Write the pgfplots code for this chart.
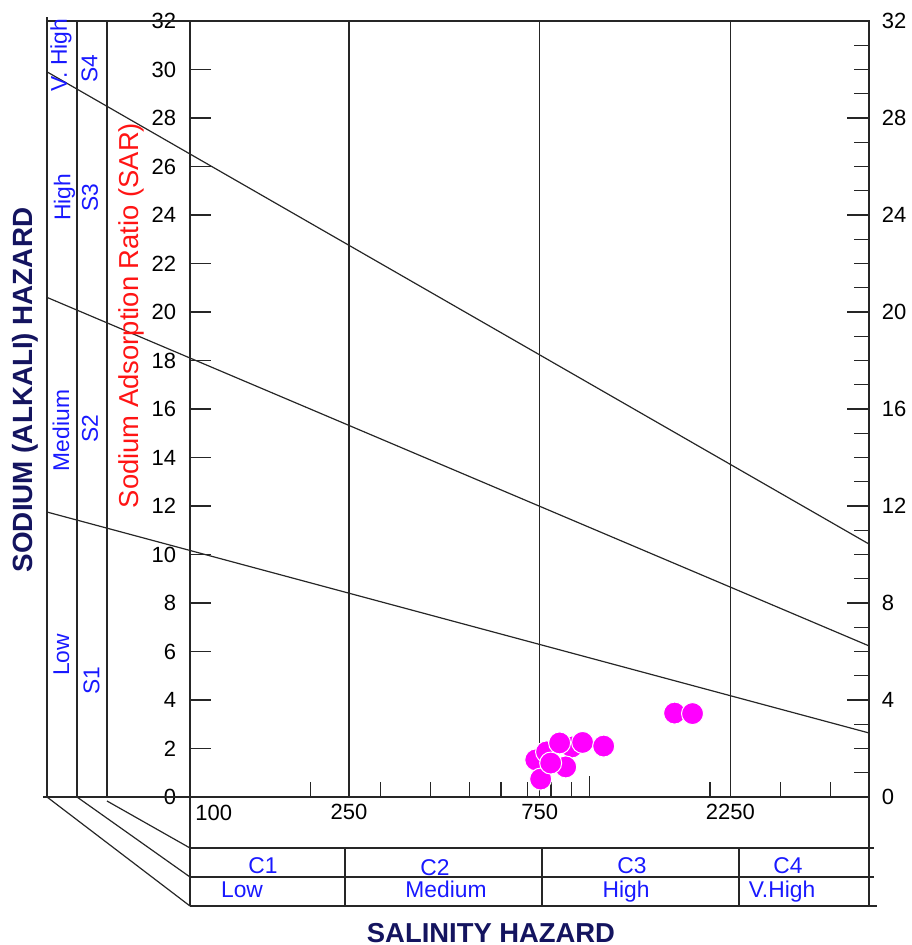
\documentclass[border=0pt]{standalone}
\usepackage{fontspec}
\setmainfont{Liberation Sans}
\usepackage{pgfplots}
\pgfplotsset{compat=1.18}
\definecolor{lab}{RGB}{25,25,255}
\definecolor{navy}{RGB}{20,20,95}
\definecolor{pts}{RGB}{255,0,255}
\definecolor{sar}{RGB}{255,20,20}

\begin{document}
\begin{tikzpicture}
\begin{axis}[
  at={(0pt,0pt)}, anchor=south west,
  width=339.5pt, height=388pt, scale only axis,
  xmode=log, xmin=100, xmax=5000, ymin=0, ymax=32,
  clip=false,
  axis line style={line width=0.7pt, black!85},
  tick align=inside,
  xtick={1000}, xticklabels={},
  minor xtick={200,300,400,500,600,700,800,900,2000,3000,4000},
  xtick pos=left,
  ytick={0,2,...,32}, ytick pos=left,
  major tick length=10.5pt, minor tick length=7.5pt,
  tick style={line width=0.6pt, black!85},
  extra x ticks={250,750,2250},
  extra x tick labels={250,750,2250},
  extra x tick style={major tick length=0pt},
  tick label style={font=\fontsize{11}{13}\selectfont},
  /pgf/number format/assume math mode=true,
  yticklabel style={xshift=-3.4pt},
]
% class boundaries (SAR lines)
\addplot[black!85, line width=0.6pt] coordinates {(43.9,11.75) (5000,2.64)};
\addplot[black!85, line width=0.6pt] coordinates {(43.9,20.6) (5000,6.23)};
\addplot[black!85, line width=0.6pt] coordinates {(43.9,29.9) (5000,10.43)};
% salinity boundaries
\addplot[black!85, line width=0.6pt] coordinates {(250,0) (250,32)};
\addplot[black!85, line width=0.6pt] coordinates {(750,0) (750,32)};
\addplot[black!85, line width=0.6pt] coordinates {(2250,0) (2250,32)};
% samples
\addplot[only marks, mark=*, mark size=5.5pt,
  mark options={fill=pts, draw=white, line width=0.5pt}] coordinates {
  (733,1.53) (902,2.06) (780,1.86) (841,2.23) (960,2.25) (754,0.74)
  (871,1.24) (1084,2.10) (799,1.40) (1631,3.46) (1809,3.44)
};
\end{axis}
\begin{axis}[
  at={(0pt,0pt)}, anchor=south west,
  width=339.5pt, height=388pt, scale only axis,
  xmin=0, xmax=1, ymin=0, ymax=32,
  hide x axis, axis y line*=right,
  axis line style={line width=0.7pt, black!85},
  ytick={0,4,...,32},
  minor ytick={1,2,3,5,6,7,9,10,11,13,14,15,17,18,19,21,22,23,25,26,27,29,30,31},
  tick align=inside,
  major tick length=11pt, minor tick length=7.5pt,
  tick style={line width=0.6pt, black!85},
  tick label style={font=\fontsize{11}{13}\selectfont},
  /pgf/number format/assume math mode=true,
  yticklabel style={xshift=2.9pt},
]
\end{axis}
% left S-band frame
\begin{scope}[black!85, line width=0.6pt]
\draw (-71.5pt,0pt) -- (-71.5pt,390pt);
\draw (-56.5pt,0pt) -- (-56.5pt,388pt);
\draw (-41.5pt,0pt) -- (-41.5pt,388pt);
\draw (-71.5pt,388pt) -- (0pt,388pt);
\draw (-73.5pt,0pt) -- (0pt,0pt);
\draw (-71.5pt,0pt) -- (0pt,-54.5pt);
\draw (-56.5pt,0pt) -- (0pt,-40pt);
\draw (-41.5pt,-2pt) -- (0pt,-25.5pt);
% C-band table
\draw (0pt,0pt) -- (0pt,-54.5pt);
\draw (339.5pt,0pt) -- (339.5pt,-54.5pt);
\draw (0pt,-25.5pt) -- (342pt,-25.5pt);
\draw (0pt,-40pt) -- (342pt,-40pt);
\draw (0pt,-54.5pt) -- (343.5pt,-54.5pt);
\draw (77.5pt,-25.5pt) -- (77.5pt,-54.5pt);
\draw (176pt,-25.5pt) -- (176pt,-54.5pt);
\draw (274.5pt,-25.5pt) -- (274.5pt,-54.5pt);
\end{scope}
\node[anchor=north west, inner sep=0pt, font=\fontsize{11}{13}\selectfont] at (2.5pt,-4pt) {100};
% C labels
\begin{scope}[every node/.style={text=lab, font=\fontsize{11.4}{13}\selectfont, anchor=base, inner sep=0pt}]
\node at (36.5pt,-38pt) {C1};
\node at (122.5pt,-39.5pt) {C2};
\node at (221pt,-38pt) {C3};
\node at (299pt,-38pt) {C4};
\node at (26pt,-50pt) {Low};
\node at (128pt,-50pt) {Medium};
\node at (218pt,-50.5pt) {High};
\node at (296pt,-50.5pt) {V.High};
\end{scope}
% S labels
\begin{scope}[every node/.style={text=lab, font=\fontsize{11.4}{13}\selectfont, rotate=90, inner sep=0pt}]
\node at (-64.5pt,371pt) {V. High};
\node at (-62.75pt,299.75pt) {High};
\node at (-64.5pt,183.25pt) {Medium};
\node at (-64.25pt,71pt) {Low};
\node at (-50.25pt,364.25pt) {S4};
\node at (-50pt,299.75pt) {S3};
\node at (-50pt,184.25pt) {S2};
\node at (-49.25pt,58.25pt) {S1};
\end{scope}
\node[rotate=90, text=sar, font=\fontsize{13.7}{16}\selectfont, inner sep=0pt] at (-29.5pt,240.75pt) {Sodium Adsorption Ratio (SAR)};
\node[rotate=90, text=navy, font=\fontsize{13.9}{16}\selectfont\bfseries, inner sep=0pt] at (-82.5pt,203.5pt) {SODIUM (ALKALI) HAZARD};
\node[anchor=base, text=navy, font=\fontsize{13.7}{16}\selectfont\bfseries, inner sep=0pt] at (150.5pt,-72.5pt) {SALINITY HAZARD};
\pgfresetboundingbox
\path[use as bounding box] (-95pt,-74pt) rectangle (360.5pt,398.5pt);
\end{tikzpicture}
\end{document}
